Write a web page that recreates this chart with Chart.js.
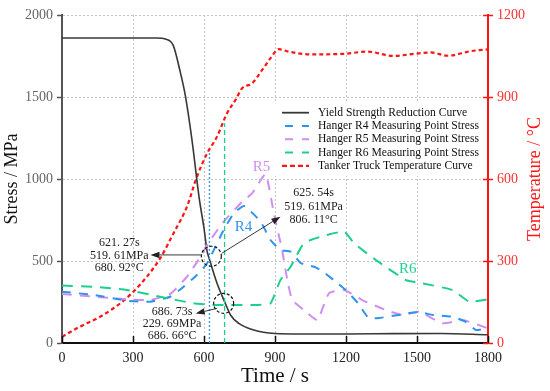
<!DOCTYPE html>
<html><head><meta charset="utf-8">
<script src="https://cdn.jsdelivr.net/npm/chart.js@4.4.0/dist/chart.umd.min.js"></script>
<style>html,body{margin:0;padding:0;background:#fff;}</style>
</head><body>
<canvas id="c" width="550" height="391" style="width:550px;height:391px;display:block"></canvas>
<script>
// ---- tick labels ----
const xTicks = [0, 300, 600, 900, 1200, 1500, 1800];
const stressTicks = [0, 500, 1000, 1500, 2000];
const tempTicks = [0, 300, 600, 900, 1200];

// ---- series ----
const yieldTime   = [0, 400, 440, 470, 500, 521, 549, 580, 600, 613, 621, 655, 690, 712, 747, 810, 900, 1000, 1200, 1400, 1600, 1800];
const yieldStress = [1860, 1860, 1852, 1815, 1650, 1510, 1240, 880, 700, 560, 520, 364, 242, 171, 120, 79, 58, 55, 55, 57, 58, 50];

const r4Time   = [0, 133, 274, 373, 457, 514, 570, 613, 683, 726, 770, 839, 881, 923, 966, 1008, 1065, 1093, 1148, 1199, 1250, 1296, 1338, 1423, 1504, 1567, 1652, 1707, 1749, 1800];
const r4Stress = [313, 293, 258, 252, 282, 343, 415, 486, 689, 791, 835, 740, 628, 567, 557, 488, 465, 445, 384, 323, 244, 152, 152, 171, 189, 171, 159, 128, 79, 91];

const r5Time   = [0, 274, 373, 457, 528, 585, 627, 683, 761, 803, 860, 895, 930, 952, 973, 1022, 1079, 1128, 1192, 1269, 1368, 1439, 1509, 1608, 1693, 1800];
const r5Stress = [299, 266, 262, 299, 404, 526, 628, 740, 861, 912, 1030, 791, 567, 384, 262, 201, 140, 303, 323, 262, 201, 171, 191, 120, 140, 89];

const r6Time   = [0, 133, 274, 415, 556, 641, 698, 824, 881, 923, 966, 1022, 1093, 1192, 1234, 1326, 1453, 1509, 1650, 1721, 1800];
const r6Stress = [350, 343, 323, 282, 242, 232, 232, 232, 242, 384, 465, 608, 648, 679, 608, 506, 384, 368, 323, 252, 266];

const tempTime = [0, 76, 161, 246, 302, 359, 415, 471, 528, 570, 613, 655, 697, 733, 761, 803, 846, 881, 916, 958, 1050, 1191, 1290, 1403, 1488, 1559, 1629, 1728, 1800];
const tempVal  = [23, 60, 96, 145, 188, 243, 310, 401, 499, 608, 694, 755, 840, 889, 932, 950, 999, 1042, 1075, 1066, 1056, 1058, 1066, 1050, 1058, 1063, 1051, 1068, 1074];

// marker lines (time, top stress)
const markerBlue  = [623, 1166];
const markerGreen = [687, 1340];

const labels = ['Yield Strength Reduction Curve', 'Hanger R4 Measuring Point Stress',
  'Hanger R5 Measuring Point Stress', 'Hanger R6 Measuring Point Stress', 'Tanker Truck Temperature Curve'];

const C = { black:'#383838', blue:'#2d93ee', purple:'#d08ef0', green:'#1ccf8c', red:'#ff1414' };
const SERIF = '"Liberation Serif", "DejaVu Serif", serif';

const pts = (xs, ys) => xs.map((x, i) => ({x, y: ys[i]}));

const annotations = {
  texts: [
    {x: 242, ys: [610, 530, 457], lines: ['621. 27s', '519. 61MPa', '680. 92°C']},
    {x: 1063, ys: [913, 831, 754], lines: ['625. 54s', '519. 61MPa', '806. 11°C']},
    {x: 465, ys: [187, 118, 46], lines: ['686. 73s', '229. 69MPa', '686. 66°C']}
  ],
  circles: [[631, 529], [683, 242]],
  arrows: [[592, 537, 374, 537], [675, 547, 923, 770], [655, 211, 565, 180]],
  tags: [
    {x: 843, y: 1073, t: 'R5', c: C.purple},
    {x: 767, y: 707, t: 'R4', c: C.blue},
    {x: 1461, y: 451, t: 'R6', c: C.green}
  ]
};

const extras = {
  id: 'extras',
  afterDraw(chart) {
    const ctx = chart.ctx, xs = chart.scales.x, ys = chart.scales.y, y2 = chart.scales.y2;
    const px = v => xs.getPixelForValue(v), py = v => ys.getPixelForValue(v);
    ctx.save();
    // inner ticks on x axis
    ctx.strokeStyle = '#111'; ctx.lineWidth = 1.5;
    xTicks.forEach(v => { const X = Math.round(px(v)) + 0.5; ctx.beginPath(); ctx.moveTo(X, ys.bottom); ctx.lineTo(X, ys.bottom - 7); ctx.stroke(); });
    // inner part of right ticks
    ctx.strokeStyle = C.red;
    tempTicks.forEach(v => { const Y = Math.round(y2.getPixelForValue(v)) + 0.5; ctx.beginPath(); ctx.moveTo(y2.left, Y); ctx.lineTo(y2.left - 5, Y); ctx.stroke(); });

    // circles
    ctx.strokeStyle = '#111'; ctx.lineWidth = 1.2; ctx.setLineDash([3, 2]);
    annotations.circles.forEach(([t, s]) => { ctx.beginPath(); ctx.arc(px(t), py(s), 10, 0, Math.PI * 2); ctx.stroke(); });
    ctx.setLineDash([]);
    // arrows
    ctx.fillStyle = '#222'; ctx.strokeStyle = '#222'; ctx.lineWidth = 0.9;
    annotations.arrows.forEach(([t1, s1, t2, s2]) => {
      const x1 = px(t1), y1 = py(s1), x2 = px(t2), y2p = py(s2);
      const a = Math.atan2(y2p - y1, x2 - x1), L = 9, W = 3.2;
      ctx.beginPath(); ctx.moveTo(x1, y1); ctx.lineTo(x2 - L * Math.cos(a), y2p - L * Math.sin(a)); ctx.stroke();
      ctx.beginPath(); ctx.moveTo(x2, y2p);
      ctx.lineTo(x2 - L * Math.cos(a) + W * Math.sin(a), y2p - L * Math.sin(a) - W * Math.cos(a));
      ctx.lineTo(x2 - L * Math.cos(a) - W * Math.sin(a), y2p - L * Math.sin(a) + W * Math.cos(a));
      ctx.closePath(); ctx.fill();
    });
    // texts
    ctx.font = '12px ' + SERIF; ctx.textAlign = 'center'; ctx.textBaseline = 'middle'; ctx.fillStyle = '#222';
    annotations.texts.forEach(g => g.lines.forEach((l, i) => ctx.fillText(l, px(g.x), py(g.ys[i]))));
    ctx.font = '15px ' + SERIF;
    annotations.tags.forEach(g => { ctx.fillStyle = g.c; ctx.fillText(g.t, px(g.x), py(g.y)); });

    // legend
    const lx = 274, ly = 103, lw = 210, lh = 73;
    ctx.fillStyle = '#fff'; ctx.fillRect(lx, ly, lw, lh);
    const rows = [
      {c: C.black, dash: [], w: 1.8, x0: 282},
      {c: C.blue, dash: [8, 9], w: 2, x0: 285},
      {c: C.purple, dash: [8, 9], w: 2, x0: 285},
      {c: C.green, dash: [8, 9], w: 2, x0: 285},
      {c: C.red, dash: [5, 3], w: 2.4, x0: 282}
    ];
    ctx.font = '11.6px ' + SERIF; ctx.textAlign = 'left'; ctx.textBaseline = 'middle';
    rows.forEach((r, i) => {
      const y = 112.7 + i * 13.3;
      ctx.strokeStyle = r.c; ctx.lineWidth = r.w; ctx.setLineDash(r.dash);
      ctx.beginPath(); ctx.moveTo(r.x0, y); ctx.lineTo(309, y); ctx.stroke();
      ctx.setLineDash([]);
      ctx.fillStyle = '#111'; ctx.fillText(labels[i], 318, y);
    });

    // right axis title
    ctx.save();
    ctx.translate(535, (ys.top + ys.bottom) / 2);
    ctx.rotate(-Math.PI / 2);
    ctx.font = '18px ' + SERIF; ctx.fillStyle = C.red; ctx.textAlign = 'center'; ctx.textBaseline = 'middle';
    ctx.fillText('Temperature / °C', 0, 0);
    ctx.restore();
    ctx.restore();
  }
};

const plain = v => String(v);

new Chart(document.getElementById('c'), {
  type: 'line',
  data: {
    datasets: [
      {label: 'blueMarker', data: [{x: markerBlue[0], y: 0}, {x: markerBlue[0], y: markerBlue[1]}], borderColor: C.blue, borderWidth: 1.3, borderDash: [2, 2], pointRadius: 0, yAxisID: 'y'},
      {label: 'greenMarker', data: [{x: markerGreen[0], y: 0}, {x: markerGreen[0], y: markerGreen[1]}], borderColor: C.green, borderWidth: 1.3, borderDash: [5, 3], pointRadius: 0, yAxisID: 'y'},
      {label: labels[3], data: pts(r6Time, r6Stress), borderColor: C.green, borderWidth: 2, borderDash: [11, 8], pointRadius: 0, tension: 0.15, yAxisID: 'y'},
      {label: labels[1], data: pts(r4Time, r4Stress), borderColor: C.blue, borderWidth: 2, borderDash: [9, 8], pointRadius: 0, tension: 0.15, yAxisID: 'y'},
      {label: labels[2], data: pts(r5Time, r5Stress), borderColor: C.purple, borderWidth: 2, borderDash: [10, 8], pointRadius: 0, tension: 0.15, yAxisID: 'y'},
      {label: labels[0], data: pts(yieldTime, yieldStress), borderColor: C.black, borderWidth: 1.6, pointRadius: 0, cubicInterpolationMode: 'monotone', yAxisID: 'y'},
      {label: labels[4], data: pts(tempTime, tempVal), borderColor: C.red, borderWidth: 2.2, borderDash: [4, 3], pointRadius: 0, cubicInterpolationMode: 'monotone', yAxisID: 'y2'}
    ]
  },
  options: {
    responsive: false, animation: false, devicePixelRatio: 1,
    layout: {padding: {top: 15, left: 0, right: 0, bottom: 0}},
    plugins: {legend: {display: false}, tooltip: {enabled: false}},
    scales: {
      x: {
        type: 'linear', position: 'bottom', min: 0, max: 1800,
        afterBuildTicks: s => { s.ticks = xTicks.map(v => ({value: v})); },
        afterFit: s => { s.height = 48; },
        grid: {color: '#c4c4c4', lineWidth: 1, drawTicks: false},
        border: {display: true, color: '#111', width: 2, dash: [2, 2]},
        ticks: {font: {family: SERIF, size: 14}, color: '#222', padding: 7, maxRotation: 0, autoSkip: false, callback: plain},
        title: {display: true, text: 'Time / s', font: {family: SERIF, size: 21}, color: '#111', padding: {top: 0, bottom: 2}}
      },
      y: {
        type: 'linear', position: 'left', min: 0, max: 2000,
        afterBuildTicks: s => { s.ticks = stressTicks.map(v => ({value: v})); },
        afterFit: s => { s.width = 62; },
        grid: {color: '#c4c4c4', lineWidth: 1, drawTicks: true, tickLength: 5, tickColor: '#555', tickWidth: 1.5, tickBorderDash: []},
        border: {display: true, color: '#555', width: 2, dash: [2, 2]},
        ticks: {font: {family: SERIF, size: 14}, color: '#666', padding: 4, callback: plain},
        title: {display: true, text: 'Stress / MPa', font: {family: SERIF, size: 18}, color: '#111', padding: {top: 1, bottom: 0}}
      },
      y2: {
        type: 'linear', position: 'right', min: 0, max: 1200,
        afterBuildTicks: s => { s.ticks = tempTicks.map(v => ({value: v})); },
        afterFit: s => { s.width = 62; },
        grid: {drawOnChartArea: false, drawTicks: true, tickLength: 5, tickColor: C.red, tickWidth: 1.5, tickBorderDash: []},
        border: {display: true, color: C.red, width: 2},
        ticks: {font: {family: SERIF, size: 14}, color: '#ff3030', padding: 4, callback: plain},
        title: {display: false}
      }
    }
  },
  plugins: [extras]
});
</script>
</body></html>
